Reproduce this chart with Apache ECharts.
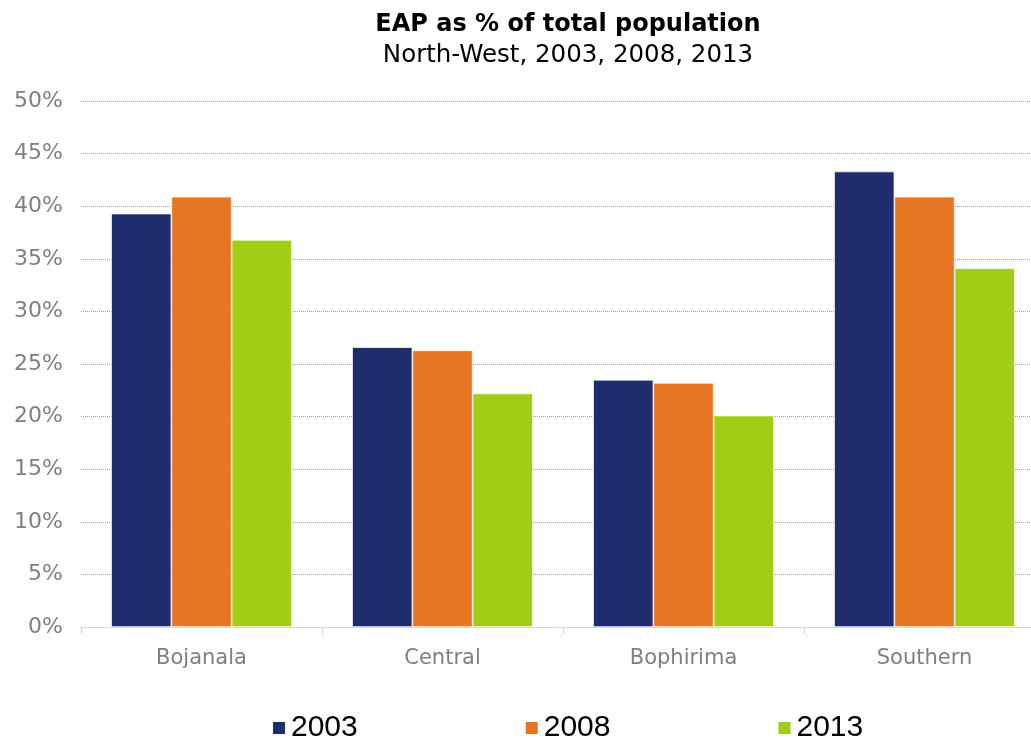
<!DOCTYPE html>
<html>
<head>
<meta charset="utf-8">
<script src="https://cdn.jsdelivr.net/npm/echarts@6/dist/echarts.min.js"></script>
<style>
  html, body { margin: 0; padding: 0; background: #fff; }
  #chart { width: 1031px; height: 740px; }
</style>
</head>
<body>
<div id="chart"></div>
<script>
// Districts of North-West province
const categories = ['Bojanala', 'Central', 'Bophirima', 'Southern'];
// Economically active population as % of total population
const years = ['2003', '2008', '2013'];
const eap2003 = [39.3, 26.6, 23.5, 43.3];
const eap2008 = [40.9, 26.3, 23.2, 40.9];
const eap2013 = [36.8, 22.2, 20.1, 34.1];
const seriesColors = ['#1F2D6E', '#E67621', '#A2CD16'];

const chart = echarts.init(document.getElementById('chart'));

const makeSeries = (name, data, color) => ({
  name: name,
  type: 'bar',
  data: data,
  barGap: '0%',
  barCategoryGap: '25%',
  itemStyle: { color: color, borderColor: '#ffffff', borderWidth: 0.7 },
  emphasis: { disabled: true }
});

chart.setOption({
  animation: false,
  title: {
    text: 'EAP as % of total population',
    subtext: 'North-West, 2003, 2008, 2013',
    left: 563,
    textAlign: 'center',
    top: 8,
    itemGap: 6,
    textStyle: { fontFamily: 'DejaVu Sans', fontWeight: 'bold', fontSize: 24, color: '#000' },
    subtextStyle: { fontFamily: 'DejaVu Sans', fontSize: 24.5, color: '#000' }
  },
  legend: {
    top: 713,
    left: 271,
    padding: 0,
    itemWidth: 14,
    itemHeight: 14,
    itemGap: 166,
    icon: 'rect',
    textStyle: { fontFamily: 'Liberation Sans', fontSize: 30, color: '#000' },
    data: years
  },
  grid: { left: 81, width: 964, top: 101, height: 526, outerBoundsMode: 'none' },
  xAxis: {
    type: 'category',
    data: categories,
    axisLine: { lineStyle: { color: '#d9d9d9', width: 1 } },
    axisTick: { show: true, length: 7, lineStyle: { color: '#d9d9d9' } },
    axisLabel: { fontFamily: 'DejaVu Sans', fontSize: 21, color: '#7f7f7f', margin: 21 }
  },
  yAxis: {
    type: 'value',
    min: 0,
    max: 50,
    interval: 5,
    axisLine: { show: false },
    axisTick: { show: false },
    axisLabel: { fontFamily: 'DejaVu Sans', fontSize: 22, color: '#7f7f7f', margin: 18, formatter: '{value}%' },
    splitLine: { lineStyle: { color: '#a0a0a0', type: [1, 1], width: 1 } }
  },
  series: [
    makeSeries(years[0], eap2003, seriesColors[0]),
    makeSeries(years[1], eap2008, seriesColors[1]),
    makeSeries(years[2], eap2013, seriesColors[2])
  ]
});
</script>
</body>
</html>
